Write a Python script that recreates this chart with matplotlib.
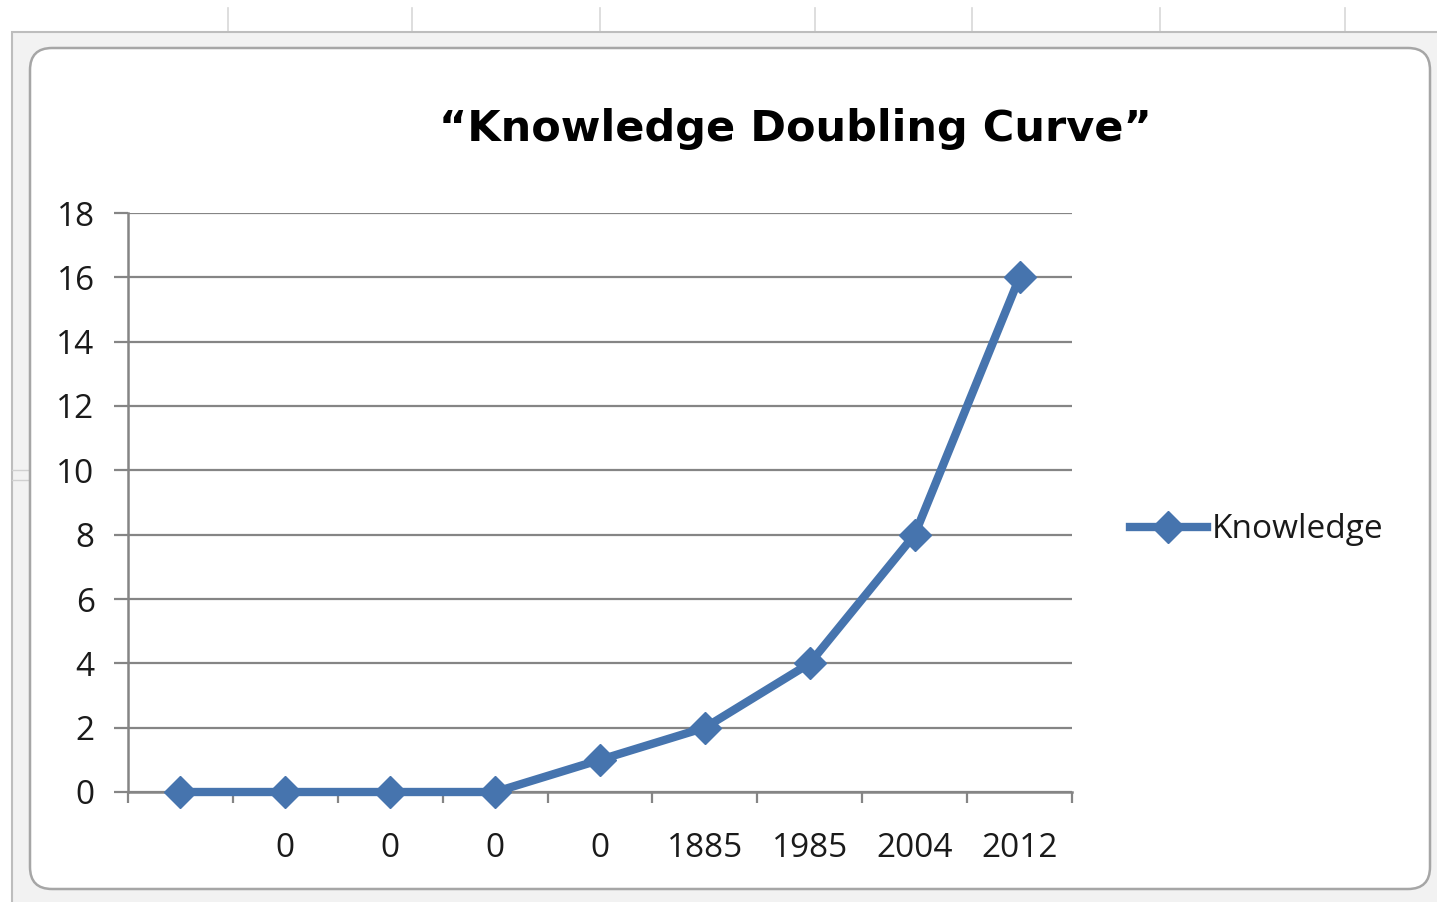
import matplotlib
matplotlib.use("Agg")
import matplotlib.pyplot as plt
from matplotlib.patches import Rectangle, FancyBboxPatch
from matplotlib.lines import Line2D
from matplotlib.transforms import Affine2D

# knowledge doubling series
years = ["", "0", "0", "0", "0", "1885", "1985", "2004", "2012"]
knowledge = [0, 0, 0, 0, 1, 2, 4, 8, 16]
y_ticks = [0, 2, 4, 6, 8, 10, 12, 14, 16, 18]

W, H = 1437, 902
blue = "#4674AE"
grid = "#858585"
label_font = "Open Sans"
label_color = "#1a1a1a"

fig = plt.figure(figsize=(W / 100, H / 100), dpi=100)
fig.patch.set_facecolor("white")

# pixel coordinates with origin at the top-left corner
px = Affine2D().scale(1, -1).translate(0, H)

# spreadsheet column lines peeking out above the chart object
for x in [228, 412, 600, 815, 972, 1160, 1345]:
    fig.add_artist(Line2D([x, x], [8, 32], color="#d8d8d8", lw=1.2,
                          transform=px, zorder=-5))
for y in [470, 480]:
    fig.add_artist(Line2D([12, 30], [y, y], color="#d0d0d0", lw=1,
                          transform=px, zorder=-3))

# grey selection band and the rounded chart frame
fig.add_artist(Rectangle((12, 32), W - 4, H - 30, transform=px, zorder=-4,
                         facecolor="#f2f2f2", edgecolor="#bdbdbd", lw=1.5))
fig.add_artist(FancyBboxPatch((30, 48), 1400, 841, transform=px, zorder=-2,
                              boxstyle="round,pad=0,rounding_size=22",
                              facecolor="white", edgecolor="#a6a6a6", lw=1.8))

ax = fig.add_axes([128 / W, 1 - 792 / H, (1072 - 128) / W, (792 - 213) / H])
ax.set_facecolor("none")

x = range(len(knowledge))
ax.plot(x, knowledge, color=blue, lw=6, marker="D", markersize=16,
        markerfacecolor=blue, markeredgecolor=blue, label="Knowledge",
        zorder=5, clip_on=False)

ax.set_xlim(-0.5, len(knowledge) - 0.5)
ax.set_ylim(0, 18)

ax.set_yticks(y_ticks)
ax.set_yticklabels([str(v) for v in y_ticks], fontfamily=label_font,
                   fontsize=24, color=label_color)
ax.tick_params(axis="y", direction="out", length=10, width=1.6, color=grid, pad=14)
ax.yaxis.grid(True, color=grid, lw=1.6)
ax.set_axisbelow(True)

# categories centred between boundary tick marks
ax.set_xticks(list(x))
ax.set_xticklabels(years, fontfamily=label_font, fontsize=24, color=label_color)
ax.set_xticks([i - 0.5 for i in range(len(knowledge) + 1)], minor=True)
ax.tick_params(axis="x", which="major", length=0, pad=29)
ax.tick_params(axis="x", which="minor", direction="out", length=8, width=1.6, color=grid)

for side in ["top", "right"]:
    ax.spines[side].set_visible(False)
for side in ["left", "bottom"]:
    ax.spines[side].set_color(grid)
    ax.spines[side].set_linewidth(1.8)

fig.text(795 / W, 1 - 129 / H, "\u201cKnowledge Doubling Curve\u201d",
         ha="center", va="center", fontsize=31, fontweight="bold",
         fontfamily="DejaVu Sans", color="black")

leg = ax.legend(loc="center left", bbox_to_anchor=(1130 / W, 1 - 530 / H),
                bbox_transform=fig.transFigure, frameon=False, borderpad=0,
                borderaxespad=0, handlelength=2.3, handletextpad=0.15,
                prop={"family": label_font, "size": 24})
for t in leg.get_texts():
    t.set_color(label_color)

fig.savefig("out.png", dpi=100)
